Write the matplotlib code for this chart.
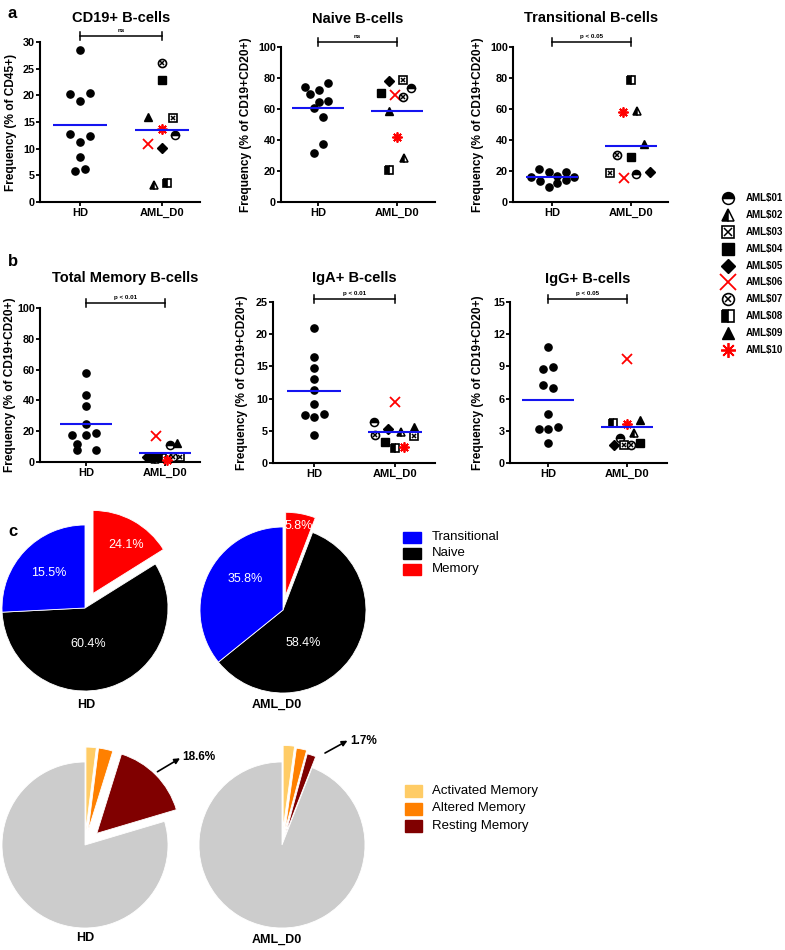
import matplotlib
matplotlib.use('Agg')
import matplotlib.pyplot as plt
from matplotlib.patches import Rectangle
import numpy as np

plt.rcParams['font.family'] = ['Liberation Sans', 'DejaVu Sans']
plt.rcParams['font.weight'] = 'bold'
plt.rcParams['axes.linewidth'] = 1.5

W, H = 785, 950

# ---------------- data ----------------
GROUPS = ['HD', 'AML_D0']
PATIENTS = ['AML$01', 'AML$02', 'AML$03', 'AML$04', 'AML$05',
            'AML$06', 'AML$07', 'AML$08', 'AML$09', 'AML$10']

TITLES = ['CD19+ B-cells', 'Naive B-cells', 'Transitional B-cells',
          'Total Memory B-cells', 'IgA+ B-cells', 'IgG+ B-cells']
YLABELS = ['Frequency (% of CD45+)'] + ['Frequency (% of CD19+CD20+)'] * 5
SIGNIF = ['ns', 'ns', 'p < 0.05', 'p < 0.01', 'p < 0.01', 'p < 0.05']
YMAX = [30, 100, 100, 100, 25, 15]
YSTEP = [5, 20, 20, 20, 5, 3]

CD19_HD = [28.5, 20.2, 20.5, 19.0, 12.7, 12.3, 11.2, 8.4, 5.8, 6.2]
CD19_AML = [12.6, 3.2, 15.7, 22.9, 10.2, 10.8, 26.0, 3.5, 16.0, 13.6]
NAIVE_HD = [74.0, 69.7, 72.3, 77.0, 64.7, 65.4, 60.4, 54.6, 37.4, 31.4]
NAIVE_AML = [73.3, 28.2, 78.7, 70.1, 78.1, 69.0, 67.9, 20.6, 58.7, 41.7]
TRANS_HD = [21.3, 19.6, 19.6, 15.9, 17.0, 16.3, 13.5, 12.3, 14.2, 9.9]
TRANS_AML = [18.1, 58.9, 18.9, 28.8, 19.6, 15.3, 30.3, 78.7, 37.4, 58.3]
MEM_HD = [57.8, 43.7, 36.6, 24.7, 17.3, 17.3, 18.8, 11.7, 8.0, 8.0]
MEM_AML = [10.8, 2.0, 3.0, 3.0, 3.0, 17.1, 3.0, 2.5, 12.5, 1.5]
IGA_HD = [20.9, 16.5, 14.7, 13.0, 11.3, 9.2, 7.4, 7.1, 7.6, 4.3]
IGA_AML = [6.3, 4.8, 4.2, 3.2, 5.3, 9.5, 4.3, 2.3, 5.6, 2.5]
IGG_HD = [10.8, 8.8, 8.9, 7.3, 7.0, 4.6, 3.2, 3.2, 3.4, 1.9]
IGG_AML = [2.3, 2.8, 1.7, 1.9, 1.7, 9.7, 1.7, 3.7, 4.0, 3.6]

# pie data (clockwise from 12 o'clock)
SUBSETS = ['Memory', 'Naive', 'Transitional']
SUBSET_COLORS = ['#ff0000', '#000000', '#0000ff']
HD_SUBSETS = [16.1, 58.1, 25.8]
HD_SUBSET_TEXT = ['24.1%', '60.4%', '15.5%']
AML_SUBSETS = [5.8, 58.4, 35.8]
AML_SUBSET_TEXT = ['5.8%', '58.4%', '35.8%']

MEMSUB = ['Activated Memory', 'Altered Memory', 'Resting Memory', 'other']
MEMSUB_COLORS = ['#ffcc66', '#ff8000', '#800000', '#cccccc']
HD_MEMSUB = [2.0, 2.8, 15.6, 79.6]
AML_MEMSUB = [2.2, 2.0, 1.7, 94.1]
RESTING_TEXT = ['18.6%', '1.7%']

# ---------------- layout (pixels) ----------------
AX_BOX = [(40, 42, 200, 202), (281, 47, 435, 202), (513, 47, 668, 202),
          (40, 308, 200, 462), (273, 302, 435, 463), (510, 302, 667, 463)]
CAT_PX = [(80, 162), (318, 397), (552, 631), (86, 165), (314, 395), (548, 627)]
YLABEL_X = [12, 247, 478, 11, 243, 478]
SIG_Y = [36, 41.5, 41.5, 303, 299, 299]
TITLE_Y = [18, 19, 18, 278, 278, 279]
HD_JIT = [[0, -10, 10, 0, -10, 10, 0, 0, -5, 5],
          [-13, -8, 1, 10, 1, 10, -4, 5, 5, -4],
          [-13, -3, 14, -21, 5, 22, -12, 5, 14, -3],
          [0, 0, 0, 0, -14, 0, 10, -9, -9, 10],
          [0, 0, 0, 0, 0, 0, -9, 0, 10, 0],
          [0, -5, 5, -5, 5, 0, -9, 0, 10, 0]]
AML_JIT = [[13, -8, 11, 0, 0, -14, 0, 5, -14, 0],
           [14, 7, 6, -16, -8, -2, 6, -8, -8, 0],
           [5, 6, -21, 0, 19, -7, -14, 0, 13, -8],
           [5, -10, 15, -12, -18, -9, 8, -3, 12, 2],
           [-21, 6, 19, -10, -7, 0, -20, 0, 19, 9],
           [-7, 7, -3, 13, -13, 0, 4, -14, 13, 0]]

MARKERS = [
    [dict(marker='o', fillstyle='top', markerfacecolor='black',
          markerfacecoloralt='white', markeredgecolor='black', mew=1.1)],
    [dict(marker='^', fillstyle='left', markerfacecolor='black',
          markerfacecoloralt='white', markeredgecolor='black', mew=1.1)],
    [dict(marker='s', markerfacecolor='white', markeredgecolor='black', mew=1.2),
     dict(marker='x', color='black', mew=1.1, scale=0.6)],
    [dict(marker='s', color='black')],
    [dict(marker='D', color='black', scale=0.8)],
    [dict(marker='x', color='red', mew=1.3, scale=1.3)],
    [dict(marker='o', markerfacecolor='white', markeredgecolor='black', mew=1.2),
     dict(marker='x', color='black', mew=1.1, scale=0.55)],
    [dict(marker='s', fillstyle='left', markerfacecolor='black',
          markerfacecoloralt='white', markeredgecolor='black', mew=1.2)],
    [dict(marker='^', color='black')],
    [dict(marker=(8, 2, 0), color='red', mew=1.3, scale=1.25)],
]

fig = plt.figure(figsize=(W / 100, H / 100), dpi=100)


def px_axes(x0, y0, x1, y1):
    return fig.add_axes([x0 / W, 1 - y1 / H, (x1 - x0) / W, (y1 - y0) / H])


def ftext(x, y, s, **kw):
    fig.text(x / W, 1 - y / H, s, **kw)


def draw_patient(ax, x, y, i, ms):
    for layer in MARKERS[i]:
        kw = dict(layer)
        s = kw.pop('scale', 1.0)
        ax.plot([x], [y], linestyle='none', markersize=ms * s,
                clip_on=False, zorder=5, **kw)


# ---------------- scatter panels a / b ----------------
panels = [(CD19_HD, CD19_AML), (NAIVE_HD, NAIVE_AML), (TRANS_HD, TRANS_AML),
          (MEM_HD, MEM_AML), (IGA_HD, IGA_AML), (IGG_HD, IGG_AML)]

for k, (hd, aml) in enumerate(panels):
    x0, y0, x1, y1 = AX_BOX[k]
    c0, c1 = CAT_PX[k]
    unit = float(c1 - c0)
    hpx = float(y1 - y0)
    ax = px_axes(x0, y0, x1, y1)
    ax.set_xlim((x0 - c0) / unit, (x1 - c0) / unit)
    ax.set_ylim(0, YMAX[k])
    ax.set_yticks(np.arange(0, YMAX[k] + 1, YSTEP[k]))
    ax.set_xticks([0, 1], GROUPS)
    ax.spines['top'].set_visible(False)
    ax.spines['right'].set_visible(False)
    ax.tick_params(length=3, width=1.3)
    ax.tick_params(axis='y', labelsize=7.8, pad=0.6)
    ax.tick_params(axis='x', labelsize=8, pad=1)
    ax.set_ylabel(YLABELS[k], fontsize=8.6, fontweight='bold')
    ax.yaxis.set_label_coords((YLABEL_X[k] + 5.5 - x0) / (x1 - x0), 0.5)

    ax.plot(np.array(HD_JIT[k]) / unit, hd, linestyle='none', marker='o',
            color='black', markersize=5.2, clip_on=False, zorder=5)
    for i, v in enumerate(aml):
        draw_patient(ax, 1 + AML_JIT[k][i] / unit, v, i, 5.8)

    ax.hlines(np.mean(hd), -0.33, 0.33, color='#1414f0', lw=1.5, zorder=6)
    ax.hlines(np.mean(aml), 1 - 0.33, 1 + 0.33, color='#1414f0', lw=1.5, zorder=6)

    # significance bracket
    tr = ax.get_xaxis_transform()
    f = (y1 - SIG_Y[k]) / hpx
    d = 4 / hpx
    ax.plot([0, 1], [f, f], transform=tr, color='black', lw=1.1, clip_on=False)
    ax.plot([0, 0], [f - d, f + d], transform=tr, color='black', lw=1.1, clip_on=False)
    ax.plot([1, 1], [f - d, f + d], transform=tr, color='black', lw=1.1, clip_on=False)
    ax.text(0.5, f + 5 / hpx, SIGNIF[k], transform=tr, fontsize=4.5,
            ha='center', va='center')

    ftext((c0 + c1) / 2, TITLE_Y[k], TITLES[k], fontsize=10.5,
          fontweight='bold', ha='center', va='center')

ftext(12, 13, 'a', fontsize=12, ha='center', va='center')
ftext(13, 262, 'b', fontsize=12, ha='center', va='center')
ftext(13, 532, 'c', fontsize=12, ha='center', va='center')

# patient legend
lg = px_axes(712, 185, 785, 362)
lg.set_xlim(712, 785)
lg.set_ylim(362, 185)
lg.axis('off')
for i, name in enumerate(PATIENTS):
    yy = 198 + 16.9 * i
    draw_patient(lg, 728, yy, i, 8.5)
    lg.text(746, yy, name, fontsize=7, ha='left', va='center')

# ---------------- pies ----------------
R = 83.0


def pie_panel(cx, cy, box, sizes, colors, explode):
    x0, y0, x1, y1 = box
    ax = px_axes(x0, y0, x1, y1)
    wedges, _ = ax.pie(sizes, colors=colors, explode=explode, startangle=90,
                       counterclock=False, radius=1,
                       wedgeprops=dict(edgecolor='white', linewidth=0.6))
    ax.set_aspect('auto')
    ax.set_xlim((x0 - cx) / R, (x1 - cx) / R)
    ax.set_ylim((cy - y1) / R, (cy - y0) / R)
    ax.axis('off')
    return ax


TOP_TEXT_POS = [[(0.49, 0.76), (0.04, -0.43), (-0.44, 0.42)],
                [(0.19, 1.01), (0.24, -0.40), (-0.45, 0.37)]]
top = [(85, 608, (0, 500, 195, 700), HD_SUBSETS, HD_SUBSET_TEXT, [0.2, 0, 0]),
       (283, 610, (195, 500, 380, 700), AML_SUBSETS, AML_SUBSET_TEXT, [0.18, 0, 0])]
for j, (cx, cy, box, sizes, texts, expl) in enumerate(top):
    ax = pie_panel(cx, cy, box, sizes, SUBSET_COLORS, expl)
    for t, (tx, ty) in zip(texts, TOP_TEXT_POS[j]):
        ax.text(tx, ty, t, color='white', fontsize=9, fontweight='normal',
                ha='center', va='center')

ftext(86, 705, 'HD', fontsize=9, ha='center', va='center')
ftext(277, 705, 'AML_D0', fontsize=9, ha='center', va='center')

# subset legend
for i, name in enumerate(['Transitional', 'Naive', 'Memory']):
    yy = 537 + 16 * i
    fig.add_artist(Rectangle((403 / W, 1 - (yy + 5.5) / H), 18 / W, 11 / H,
                             transform=fig.transFigure,
                             color=SUBSET_COLORS[SUBSETS.index(name)]))
    ftext(432, yy, name, fontsize=9.5, fontweight='normal', va='center')

ARROWS = [((0.873, 0.883), (1.145, 1.045), (1.175, 1.06)),
          ((0.518, 1.108), (0.789, 1.257), (0.82, 1.259))]
bottom = [(85, 845, (0, 735, 195, 935), HD_MEMSUB, [0.18, 0.18, 0.2, 0]),
          (282, 845, (195, 730, 380, 935), AML_MEMSUB, [0.2, 0.18, 0.14, 0])]
for j, (cx, cy, box, sizes, expl) in enumerate(bottom):
    ax = pie_panel(cx, cy, box, sizes, MEMSUB_COLORS, expl)
    start, end, tpos = ARROWS[j]
    ax.annotate('', xy=end, xytext=start, annotation_clip=False,
                arrowprops=dict(arrowstyle='-|>', color='black', lw=1.2,
                                mutation_scale=8, shrinkA=0, shrinkB=0))
    ax.text(tpos[0], tpos[1], RESTING_TEXT[j], fontsize=8.5, ha='left',
            va='center', clip_on=False)

ftext(85, 938, 'HD', fontsize=9, ha='center', va='center')
ftext(277, 940, 'AML_D0', fontsize=9, ha='center', va='center')

for i, name in enumerate(MEMSUB[:3]):
    yy = 791 + 17.5 * i
    fig.add_artist(Rectangle((405 / W, 1 - (yy + 6) / H), 17 / W, 12 / H,
                             transform=fig.transFigure, color=MEMSUB_COLORS[i]))
    ftext(432, yy, name, fontsize=9.5, fontweight='normal', va='center')

fig.savefig('out.png', dpi=100, facecolor='white')
